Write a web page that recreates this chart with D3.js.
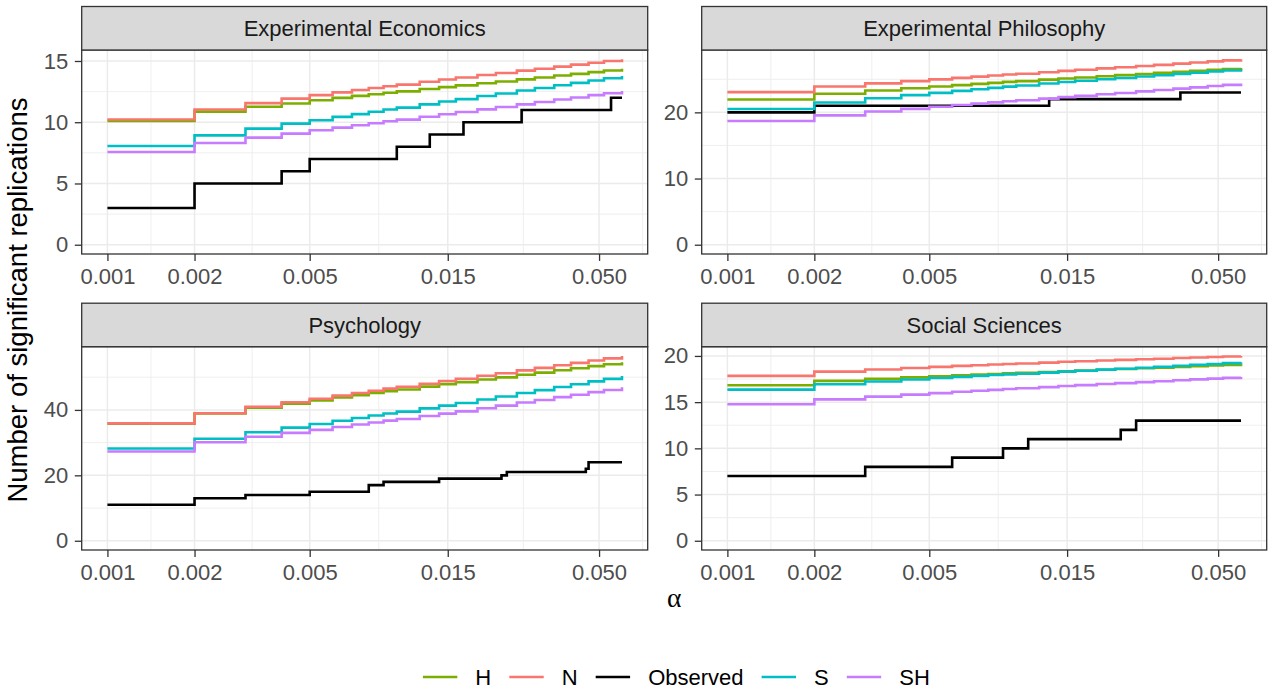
<!DOCTYPE html>
<html>
<head>
<meta charset="utf-8">
<script src="https://cdn.jsdelivr.net/npm/d3@7"></script>
<style>
  body { margin: 0; background: #fff; }
  svg { display: block; font-family: "Liberation Sans", Arial, sans-serif; }
</style>
</head>
<body>
<div id="chart"></div>
<script>
const width = 1272, height = 695;

// facets and series
const facets = ["Experimental Economics", "Experimental Philosophy", "Psychology", "Social Sciences"];
const seriesNames = ["H", "N", "Observed", "S", "SH"];
const seriesColors = ["#7CAE00", "#F8766D", "#000000", "#00BFC4", "#C77CFF"];

// x tick labels
const xBreaks = [0.001, 0.002, 0.005, 0.015, 0.050];
const xBreakLabels = ["0.001", "0.002", "0.005", "0.015", "0.050"];

// y tick labels per facet
const yBreaks = [[0, 5, 10, 15], [0, 10, 20], [0, 20, 40], [0, 5, 10, 15, 20]];

// alpha values where the model curves are read
const alphaGrid = [0.001, 0.002, 0.003, 0.004, 0.005, 0.006, 0.007, 0.008, 0.009, 0.010, 0.012,
  0.014, 0.016, 0.019, 0.022, 0.026, 0.030, 0.035, 0.040, 0.046, 0.052, 0.060];

// Experimental Economics
const econH = [10.11, 10.87, 11.26, 11.53, 11.80, 11.99, 12.15, 12.29, 12.41, 12.52, 12.71, 12.87, 13.01, 13.18, 13.33, 13.50, 13.65, 13.81, 13.95, 14.09, 14.22, 14.37];
const econN = [10.22, 11.04, 11.56, 11.93, 12.21, 12.44, 12.63, 12.80, 12.94, 13.07, 13.30, 13.49, 13.65, 13.85, 14.02, 14.21, 14.37, 14.54, 14.70, 14.86, 15.00, 15.14];
const econS = [8.06, 8.93, 9.48, 9.89, 10.16, 10.44, 10.66, 10.86, 11.04, 11.19, 11.46, 11.69, 11.89, 12.14, 12.35, 12.59, 12.80, 13.02, 13.21, 13.41, 13.59, 13.77];
const econSH = [7.57, 8.31, 8.74, 9.07, 9.34, 9.56, 9.75, 9.92, 10.08, 10.21, 10.45, 10.65, 10.83, 11.05, 11.24, 11.46, 11.65, 11.85, 12.02, 12.21, 12.37, 12.54];
const econObsAlpha = [0.001, 0.002, 0.004, 0.005, 0.010, 0.013, 0.017, 0.027, 0.055, 0.060];
const econObs = [3, 5, 6, 7, 8, 9, 10, 11, 12, 12];

// Experimental Philosophy
const philH = [21.95, 22.81, 23.30, 23.64, 23.91, 24.12, 24.30, 24.46, 24.60, 24.72, 24.94, 25.12, 25.27, 25.46, 25.62, 25.80, 25.96, 26.13, 26.27, 26.43, 26.56, 26.72];
const philN = [23.06, 23.91, 24.38, 24.72, 24.98, 25.21, 25.40, 25.57, 25.71, 25.84, 26.07, 26.26, 26.43, 26.64, 26.81, 27.01, 27.18, 27.37, 27.53, 27.70, 27.85, 28.02];
const philS = [20.50, 21.50, 22.14, 22.60, 22.95, 23.24, 23.49, 23.70, 23.89, 24.06, 24.35, 24.59, 24.78, 25.01, 25.20, 25.42, 25.61, 25.81, 25.99, 26.17, 26.33, 26.52];
const philSH = [18.70, 19.55, 20.12, 20.53, 20.84, 21.10, 21.32, 21.51, 21.67, 21.82, 22.08, 22.30, 22.49, 22.73, 22.93, 23.17, 23.37, 23.59, 23.78, 23.98, 24.15, 24.35];
const philObsAlpha = [0.001, 0.002, 0.013, 0.037, 0.060];
const philObs = [20, 21, 22, 23, 23];

// Psychology
const psychH = [35.8, 38.9, 40.67, 41.93, 42.9, 43.78, 44.52, 45.17, 45.73, 46.24, 47.12, 47.87, 48.50, 49.29, 49.96, 50.74, 51.40, 52.11, 52.73, 53.38, 53.94, 54.6];
const psychN = [35.9, 39.0, 40.95, 42.33, 43.4, 44.36, 45.18, 45.88, 46.50, 47.06, 48.02, 48.84, 49.54, 50.45, 51.21, 52.10, 52.85, 53.66, 54.37, 55.11, 55.75, 56.5];
const psychS = [28.2, 31.2, 33.19, 34.60, 35.7, 36.69, 37.54, 38.27, 38.91, 39.49, 40.48, 41.32, 42.10, 43.19, 44.10, 45.15, 46.05, 47.02, 47.86, 48.74, 49.50, 50.4];
const psychSH = [27.3, 30.1, 31.78, 32.97, 33.9, 34.78, 35.52, 36.17, 36.73, 37.24, 38.12, 38.87, 39.56, 40.52, 41.32, 42.26, 43.05, 43.91, 44.65, 45.43, 46.11, 46.9];
const psychObsAlpha = [0.001, 0.002, 0.003, 0.005, 0.008, 0.009, 0.014, 0.023, 0.024, 0.045, 0.046, 0.060];
const psychObs = [11, 13, 14, 15, 17, 18, 19, 20, 21, 22, 24, 24];

// Social Sciences
const socH = [16.83, 17.30, 17.52, 17.68, 17.80, 17.90, 17.98, 18.05, 18.11, 18.17, 18.26, 18.35, 18.41, 18.50, 18.58, 18.67, 18.74, 18.82, 18.89, 18.96, 19.03, 19.10];
const socN = [17.84, 18.30, 18.53, 18.69, 18.82, 18.92, 19.00, 19.07, 19.13, 19.19, 19.28, 19.37, 19.43, 19.50, 19.57, 19.64, 19.70, 19.77, 19.83, 19.89, 19.94, 20.00];
const socS = [16.36, 16.94, 17.24, 17.45, 17.62, 17.74, 17.84, 17.93, 18.01, 18.08, 18.20, 18.30, 18.40, 18.52, 18.62, 18.73, 18.83, 18.94, 19.04, 19.13, 19.22, 19.32];
const socSH = [14.77, 15.30, 15.60, 15.81, 15.98, 16.12, 16.23, 16.33, 16.42, 16.50, 16.63, 16.75, 16.84, 16.96, 17.06, 17.17, 17.26, 17.37, 17.46, 17.55, 17.63, 17.73];
const socObsAlpha = [0.001, 0.003, 0.006, 0.009, 0.011, 0.023, 0.026, 0.060];
const socObs = [7, 8, 9, 10, 11, 12, 13, 13];

// build [alpha, value] lists per facet, in series order H, N, Observed, S, SH
const zip = (a, v) => a.map((x, i) => [x, v[i]]);
const facetData = [
  [zip(alphaGrid, econH), zip(alphaGrid, econN), zip(econObsAlpha, econObs), zip(alphaGrid, econS), zip(alphaGrid, econSH)],
  [zip(alphaGrid, philH), zip(alphaGrid, philN), zip(philObsAlpha, philObs), zip(alphaGrid, philS), zip(alphaGrid, philSH)],
  [zip(alphaGrid, psychH), zip(alphaGrid, psychN), zip(psychObsAlpha, psychObs), zip(alphaGrid, psychS), zip(alphaGrid, psychSH)],
  [zip(alphaGrid, socH), zip(alphaGrid, socN), zip(socObsAlpha, socObs), zip(alphaGrid, socS), zip(alphaGrid, socSH)]
];

// layout
const panels = [
  {x0: 81.7, x1: 647.7, y0: 50, y1: 254},
  {x0: 701.7, x1: 1266.7, y0: 50, y1: 254},
  {x0: 81.7, x1: 647.7, y0: 346.7, y1: 550},
  {x0: 701.7, x1: 1266.7, y0: 346.7, y1: 550}
];
const stripH = 43.5;

const svg = d3.select("#chart")
  .append("svg")
  .attr("width", width)
  .attr("height", height)
  .attr("viewBox", [0, 0, width, height]);

svg.append("rect").attr("width", width).attr("height", height).attr("fill", "#fff");

const stepLine = d3.line().curve(d3.curveStepAfter);

facets.forEach((name, f) => {
  const p = panels[f];
  const data = facetData[f];

  // x: log scale with 5% expansion
  const allX = data.flat().map(d => d[0]);
  const lo = Math.log10(d3.min(allX)), hi = Math.log10(d3.max(allX));
  const dx = (hi - lo) * 0.05;
  const x = d3.scaleLog()
    .domain([Math.pow(10, lo - dx), Math.pow(10, hi + dx)])
    .range([p.x0, p.x1]);

  // y: include 0, 5% expansion
  const maxY = d3.max(data.flat(), d => d[1]);
  const y = d3.scaleLinear()
    .domain([-0.05 * maxY, maxY * 1.05])
    .range([p.y1, p.y0]);

  const g = svg.append("g");

  // panel background
  g.append("rect")
    .attr("x", p.x0).attr("y", p.y0)
    .attr("width", p.x1 - p.x0).attr("height", p.y1 - p.y0)
    .attr("fill", "#fff");

  // minor grid: midpoints between breaks (log for x)
  const xb = xBreaks.map(Math.log10);
  const xStep = xb[1] - xb[0];
  const xExt = [xb[0] - xStep, ...xb, xb[xb.length - 1] + xStep];
  const xMinor = d3.pairs(xExt).map(([a, b]) => Math.pow(10, (a + b) / 2));
  const yb = yBreaks[f];
  const yStep = yb[1] - yb[0];
  const yExt = [yb[0] - yStep, ...yb, yb[yb.length - 1] + yStep];
  const yMinor = d3.pairs(yExt).map(([a, b]) => (a + b) / 2);
  const [xd0, xd1] = x.domain(), [yd0, yd1] = y.domain();

  g.selectAll(".xminor")
    .data(xMinor.filter(v => v > xd0 && v < xd1))
    .enter().append("line")
    .attr("x1", d => x(d)).attr("x2", d => x(d))
    .attr("y1", p.y0).attr("y2", p.y1)
    .attr("stroke", "#EBEBEB").attr("stroke-width", 0.8);
  g.selectAll(".yminor")
    .data(yMinor.filter(v => v > yd0 && v < yd1))
    .enter().append("line")
    .attr("y1", d => y(d)).attr("y2", d => y(d))
    .attr("x1", p.x0).attr("x2", p.x1)
    .attr("stroke", "#EBEBEB").attr("stroke-width", 0.8);
  g.selectAll(".xmajor")
    .data(xBreaks)
    .enter().append("line")
    .attr("x1", d => x(d)).attr("x2", d => x(d))
    .attr("y1", p.y0).attr("y2", p.y1)
    .attr("stroke", "#EBEBEB").attr("stroke-width", 1.5);
  g.selectAll(".ymajor")
    .data(yb)
    .enter().append("line")
    .attr("y1", d => y(d)).attr("y2", d => y(d))
    .attr("x1", p.x0).attr("x2", p.x1)
    .attr("stroke", "#EBEBEB").attr("stroke-width", 1.5);

  // step lines
  data.forEach((pts, s) => {
    g.append("path")
      .attr("d", stepLine(pts.map(d => [x(d[0]), y(d[1])])))
      .attr("fill", "none")
      .attr("stroke", seriesColors[s])
      .attr("stroke-width", 2.6);
  });

  // panel border
  g.append("rect")
    .attr("x", p.x0).attr("y", p.y0)
    .attr("width", p.x1 - p.x0).attr("height", p.y1 - p.y0)
    .attr("fill", "none").attr("stroke", "#333333").attr("stroke-width", 1.3);

  // strip
  g.append("rect")
    .attr("x", p.x0).attr("y", p.y0 - stripH)
    .attr("width", p.x1 - p.x0).attr("height", stripH)
    .attr("fill", "#D9D9D9").attr("stroke", "#333333").attr("stroke-width", 1.3);
  g.append("text")
    .attr("x", (p.x0 + p.x1) / 2)
    .attr("y", p.y0 - stripH / 2 + 7.8)
    .attr("text-anchor", "middle")
    .attr("font-size", "22px")
    .attr("fill", "#1A1A1A")
    .text(name);

  // axes
  const xAxis = g.append("g")
    .attr("transform", `translate(0,${p.y1})`)
    .call(d3.axisBottom(x).tickValues(xBreaks).tickFormat((d, i) => xBreakLabels[i])
      .tickSize(6.9).tickPadding(7.5));
  const yAxis = g.append("g")
    .attr("transform", `translate(${p.x0},0)`)
    .call(d3.axisLeft(y).tickValues(yb).tickFormat(d3.format("d"))
      .tickSize(6.9).tickPadding(6.5));
  [xAxis, yAxis].forEach(ax => {
    ax.select(".domain").remove();
    ax.selectAll(".tick line").attr("stroke", "#333333").attr("stroke-width", 1.3);
    ax.selectAll(".tick text")
      .attr("font-size", "22px")
      .attr("font-family", '"Liberation Sans", Arial, sans-serif')
      .attr("fill", "#4D4D4D");
  });
});

// axis titles
svg.append("text")
  .attr("transform", "translate(27,300) rotate(-90)")
  .attr("text-anchor", "middle")
  .attr("font-size", "27.5px")
  .attr("fill", "#000")
  .text("Number of significant replications");

svg.append("text")
  .attr("x", (panels[0].x0 + panels[1].x1) / 2)
  .attr("y", 607)
  .attr("text-anchor", "middle")
  .attr("font-size", "27.5px")
  .attr("font-family", '"Liberation Serif", "DejaVu Serif", serif')
  .attr("fill", "#000")
  .text("α");

// legend
const legend = svg.append("g");
const keyW = 43, keyGap = 13.75, itemGap = 13.75, legendY = 677;
const items = seriesNames.map((n, i) => {
  const t = legend.append("text")
    .attr("font-size", "22px")
    .attr("fill", "#000")
    .attr("y", legendY + 7.9)
    .text(n);
  return {t, w: t.node().getComputedTextLength(), color: seriesColors[i]};
});
const totalW = d3.sum(items, d => keyW + keyGap + d.w) + itemGap * (items.length - 1);
let lx = (panels[0].x0 + panels[1].x1) / 2 - totalW / 2;
items.forEach(it => {
  legend.append("line")
    .attr("x1", lx + keyW * 0.1).attr("x2", lx + keyW * 0.9)
    .attr("y1", legendY).attr("y2", legendY)
    .attr("stroke", it.color).attr("stroke-width", 2.6);
  it.t.attr("x", lx + keyW + keyGap);
  lx += keyW + keyGap + it.w + itemGap;
});
</script>
</body>
</html>
